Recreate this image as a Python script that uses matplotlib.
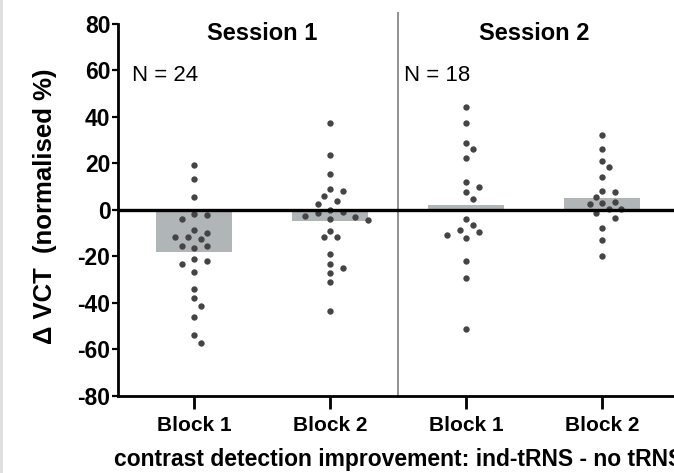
import numpy as np
import matplotlib
matplotlib.use("Agg")
import matplotlib.pyplot as plt
from matplotlib.lines import Line2D

plt.rcParams["font.family"] = ["Liberation Sans", "DejaVu Sans"]

# values (normalised %), one list per block
session_titles = ["Session 1", "Session 2"]
block_labels = ["Block 1", "Block 2", "Block 1", "Block 2"]
n_labels = ["N = 24", "N = 18"]

s1_block1 = [19.2, 13.5, 5.5, -1.7, -2.2, -4.0, -8.5, -9.8, -11.5, -12.6, -11.7,
             -16.3, -15.5, -15.5, -21.2, -21.8, -23.4, -26.7, -33.8, -37.8, -41.3,
             -45.9, -53.8, -57.3]
s1_block2 = [37.3, 23.7, 15.5, 9.2, 8.0, 6.0, 4.0, 2.7, 0.0, -0.9, -1.4, -2.9,
             -3.7, -2.4, -4.3, -8.9, -11.5, -11.5, -19.1, -23.4, -24.9, -27.1,
             -30.8, -43.6]
s2_block1 = [44.3, 37.3, 28.7, 26.1, 22.5, 12.2, 9.9, 7.9, 4.6, -3.9, -6.5, -8.5,
             -9.6, -10.6, -11.9, -21.9, -29.4, -51.3]
s2_block2 = [32.1, 26.2, 21.2, 18.6, 14.4, 8.2, 7.6, 5.6, 3.1, 3.4, 2.4, 0.3, 0.3,
             -1.4, -3.3, -7.7, -13.0, -19.7]
bar_means = [-17.9, -4.6, 2.0, 5.2]

groups = [s1_block1, s1_block2, s2_block1, s2_block2]


def swarm_offsets(values, ax, step_px=6.3, min_dist_px=8.5):
    """Greedy beeswarm: put each dot in the nearest free column."""
    x0, x1 = ax.get_xlim()
    y0, y1 = ax.get_ylim()
    px_x = ax.bbox.width / (x1 - x0)
    px_y = ax.bbox.height / (y1 - y0)
    order = [0] + [s * i for i in range(1, 12) for s in (1, -1)]
    placed = []
    cols = []
    for v in values:
        ypx = v * px_y
        for c in order:
            if all(np.hypot((c - pc) * step_px, ypx - py) >= min_dist_px
                   for pc, py in placed):
                break
        placed.append((c, ypx))
        cols.append(c)
    return np.array(cols) * step_px / px_x


fig = plt.figure(figsize=(6.74, 4.73), dpi=100)
ax = fig.add_axes([0.1751, 0.1628, 0.8316, 0.7865])
ax.set_xlim(-0.56, 3.56)
ax.set_ylim(-80, 80)

xpos = np.arange(len(groups))
ax.bar(xpos, bar_means, width=0.56, color="#b0b5b7", zorder=1)

for x, vals in zip(xpos, groups):
    offs = swarm_offsets(vals, ax)
    ax.scatter(x + offs, vals, s=21, color="#444444", linewidths=0, zorder=3)

ax.axhline(0, color="black", lw=2.4, zorder=4)
ax.axvline(1.5, ymin=0, ymax=1.03, color="#888888", lw=1.3, clip_on=False, zorder=2)

for i, title in enumerate(session_titles):
    ax.text(0.5 + 2 * i, 76, title, ha="center", va="center",
            fontsize=17, fontweight="bold")
for i, lab in enumerate(n_labels):
    ax.text(-0.46 + 2 * i, 58, lab, ha="left", va="center", fontsize=16)

ax.set_xticks(xpos)
ax.set_xticklabels(block_labels, fontsize=15, fontweight="bold")
ax.set_yticks(np.arange(-80, 81, 20))
ax.set_yticklabels([str(t) for t in range(-80, 81, 20)],
                   fontsize=16.5, fontweight="bold")
ax.tick_params(axis="y", length=4, width=1.6, pad=1.5)
ax.tick_params(axis="x", length=9.5, width=2, pad=5)

for side in ("top", "right"):
    ax.spines[side].set_visible(False)
for side in ("left", "bottom"):
    ax.spines[side].set_linewidth(2)

ax.set_ylabel("\u0394 VCT  (normalised %)", fontsize=18.5, fontweight="bold")
ax.yaxis.set_label_coords(-0.108, 0.51)
ax.set_xlabel("contrast detection improvement: ind-tRNS - no tRNS",
              fontsize=16.5, fontweight="bold", labelpad=9.5)

# faint frame edge on the left of the original screenshot
fig.add_artist(Line2D([0.002, 0.002], [0, 1], transform=fig.transFigure,
                      color="#dddddd", lw=2))

fig.savefig("out.png", dpi=100)
